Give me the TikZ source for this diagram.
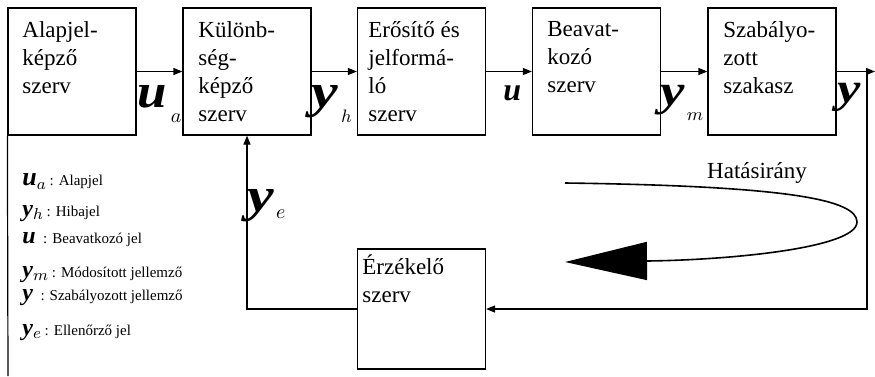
\documentclass[tikz,border=0pt]{standalone}
\usepackage{fontspec}
\setmainfont{Liberation Serif}
\usepackage{tikz}
\usetikzlibrary{arrows.meta}
\newcommand{\jel}[2]{{\fontsize{#1}{#1}\selectfont\bfseries\itshape #2}}
\newcommand{\szeles}[2]{\scalebox{1.25}[1]{\jel{#1}{#2}}}
\newcommand{\idx}[3]{\raisebox{#2}{\fontsize{#1}{#1}\selectfont$#3$}}
\newcommand{\lgd}{\fontsize{7.5}{9}\selectfont}

\begin{document}
\begin{tikzpicture}[x=0.5pt, y=-0.5pt,
		blokk/.style={draw, line width=0.6pt, minimum width=64pt, minimum height=63.5pt, inner sep=0pt},
		felirat/.style={anchor=north west, align=left, inner sep=0pt, font=\fontsize{11.5}{14}\selectfont},
		nyil/.style={line width=0.6pt, -{Triangle[length=4.5pt, width=3.5pt]}},
		jelmag/.style={anchor=base west, inner sep=0pt}]
			\useasboundingbox (0,0) rectangle (875,376);
			\node[blokk] (alap) at (72,71.5) {};
			\node[blokk] (kul) at (247,71.5) {};
			\node[blokk] (erosito) at (421.5,71.5) {};
			\node[blokk] (beav) at (596.5,71.5) {};
			\node[blokk] (szab) at (772,71.5) {};
			\node[blokk, minimum height=60pt] (erz) at (421.5,309) {};
			\node[felirat] (alaptxt) at (22,21) {Alapjel-\\képző\\szerv};
			\node[felirat] (kultxt) at (198,21) {Különb-\\ség-\\képző\\szerv};
			\node[felirat] (erositotxt) at (368,21) {Erősítő és\\jelformá-\\ló\\szerv};
			\node[felirat] (beavtxt) at (547,21) {Beavat-\\kozó\\szerv};
			\node[felirat] (szabtxt) at (723,21) {Szabályo-\\zott\\szakasz};
			\node[felirat] (erztxt) at (362,254) {Érzékelő\\szerv};
			\foreach \a/\b in {alap/kul, kul/erosito, erosito/beav, beav/szab}
				\draw[nyil] (\a) -- (\b);
			\coordinate (ki) at (875,71.5);
			\coordinate (ag) at (867,71.5);
			\coordinate (lent) at (8,376);
			\draw[nyil] (szab) -- (ki);
			\draw[nyil] (ag) |- (erz.east);
			\draw[nyil] (erz.west) -| (kul.south);
			\draw[line width=0.6pt] (alap.south west) -- (lent);
			\node[jelmag] (ua) at (137,107) {\scalebox{1.1}[1]{\jel{24}{u}}\hspace{2pt}\idx{10}{-7.5pt}{a}};
			\node[jelmag] (yh) at (311,107) {\szeles{24}{y}\hspace{1.5pt}\idx{9}{-7.5pt}{h}};
			\node[jelmag] (u) at (503,100) {\jel{16}{u}};
			\node[jelmag] (ym) at (660,105) {\szeles{22}{y}\hspace{1pt}\idx{9}{-7.5pt}{m}};
			\node[jelmag] (y) at (837,102) {\szeles{21}{y}};
			\node[jelmag] (ye) at (247,211) {\szeles{24}{y}\hspace{1pt}\idx{10}{-3.5pt}{e}};
			\node[font=\fontsize{11.5}{14}\selectfont] (hatas) at (757,173) {Hatásirány};
			\draw[line width=0.8pt, -{Triangle[length=41pt, width=19pt]}] (565,183) .. controls (790,186) and (857,200) .. (857,222) .. controls (857,248) and (730,260) .. (565,262);
			\node[jelmag] (la) at (22,185) {\jel{13}{u}\idx{8}{-2pt}{a}\lgd\ : Alapjel};
			\node[jelmag] (lh) at (22,216) {\jel{12}{y}\idx{8}{-1.5pt}{h}\lgd\ : Hibajel};
			\node[jelmag] (lu) at (22,243) {\jel{12}{u}\lgd\ \ : Beavatkozó jel};
			\node[jelmag] (lm) at (22,277) {\jel{12}{y}\idx{8}{-1.5pt}{m}\lgd\ : Módosított jellemző};
			\node[jelmag] (ly) at (22,300) {\jel{12}{y}\lgd\ \ : Szabályozott jellemző};
			\node[jelmag] (le) at (22,335) {\jel{12}{y}\idx{8}{-1.5pt}{e}\lgd\ : Ellenőrző jel};
		\end{tikzpicture}
\end{document}
